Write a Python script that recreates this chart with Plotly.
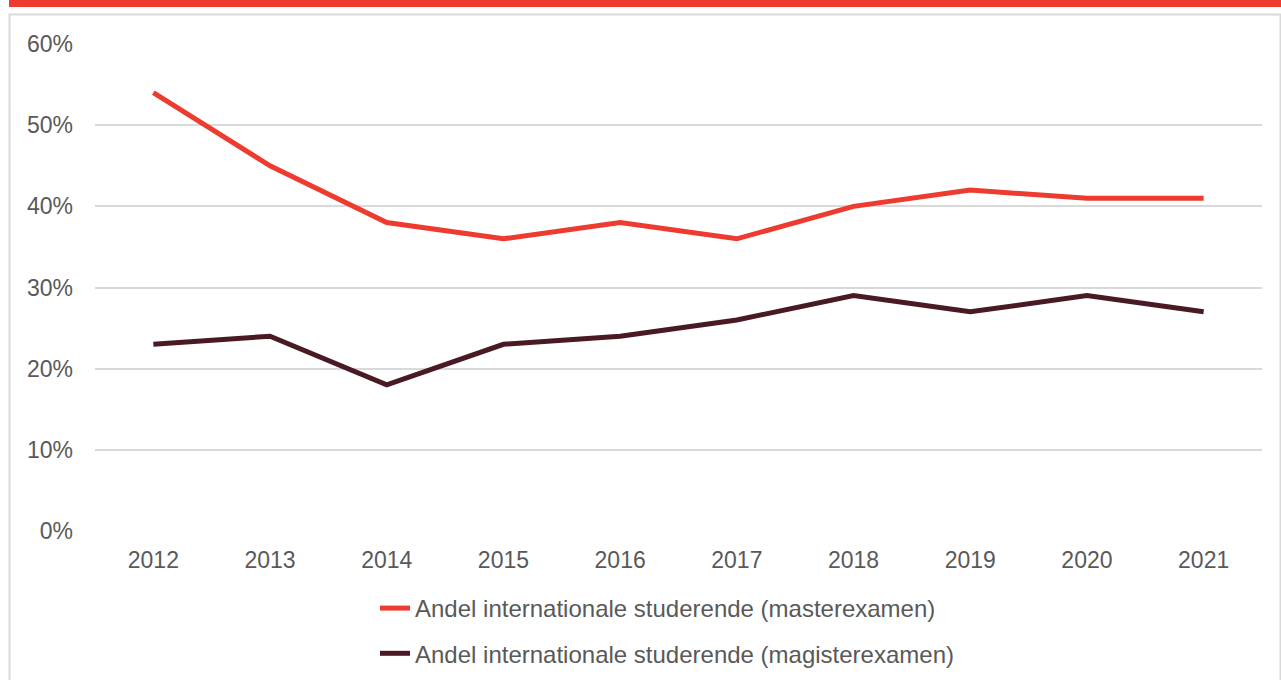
import plotly.graph_objects as go

years = ["2012", "2013", "2014", "2015", "2016", "2017", "2018", "2019", "2020", "2021"]
master = [54, 45, 38, 36, 38, 36, 40, 42, 41, 41]
magister = [23, 24, 18, 23, 24, 26, 29, 27, 29, 27]
series_names = ["Andel internationale studerende (masterexamen)",
                "Andel internationale studerende (magisterexamen)"]
y_ticks = [0, 10, 20, 30, 40, 50, 60]
y_tick_text = [f"{v}%" for v in y_ticks]

W, H = 1281, 680
L, R, T, B = 95, 19, 44, 149
pw = W - L - R
ph = H - T - B

def px2x(px):
    return (px - L) / pw

def py2y(py):
    return (H - B - py) / ph

FONT = "Liberation Sans, Arial, sans-serif"
TXT = "#595959"

fig = go.Figure()
fig.add_trace(go.Scatter(x=years, y=master, mode="lines", name=series_names[0],
                         line=dict(color="#EE3B2F", width=5), legendgroup="a"))
fig.add_trace(go.Scatter(x=years, y=magister, mode="lines", name=series_names[1],
                         line=dict(color="#4A1A24", width=5), legendgroup="b"))

shapes = [
    dict(type="rect", xref="paper", yref="paper",
         x0=px2x(9.5), x1=px2x(1280.5), y0=py2y(700), y1=py2y(14.5),
         line=dict(color="#D9D9D9", width=2), fillcolor="rgba(0,0,0,0)", layer="below"),
    dict(type="rect", xref="paper", yref="paper",
         x0=px2x(9), x1=px2x(1281), y0=py2y(7), y1=py2y(-2),
         line=dict(width=0), fillcolor="#EE3B2F", layer="above"),
]

fig.update_layout(
    width=W, height=H,
    margin=dict(l=L, r=R, t=T, b=B, autoexpand=False),
    paper_bgcolor="white", plot_bgcolor="white",
    font=dict(family=FONT, size=23, color=TXT),
    showlegend=True,
    legend=dict(orientation="v", x=px2x(375), xanchor="left", y=py2y(586), yanchor="top",
                traceorder="grouped", tracegroupgap=11, bgcolor="rgba(0,0,0,0)",
                font=dict(family=FONT, size=24, color=TXT)),
    shapes=shapes,
    xaxis=dict(type="category", range=[-0.5, 9.5], showgrid=False, zeroline=False,
               showline=False, ticks="", ticklabelstandoff=13,
               tickfont=dict(family=FONT, size=23, color=TXT)),
    yaxis=dict(range=[0, 60], tickmode="array", tickvals=y_ticks, ticktext=y_tick_text,
               showgrid=True, gridcolor="#D9D9D9", gridwidth=1.5, zeroline=False,
               showline=False, ticks="", ticklabelstandoff=21,
               tickfont=dict(family=FONT, size=23, color=TXT)),
)

fig.write_html("out.html", config={"displayModeBar": False},
               post_script="document.body.style.margin='0';")
